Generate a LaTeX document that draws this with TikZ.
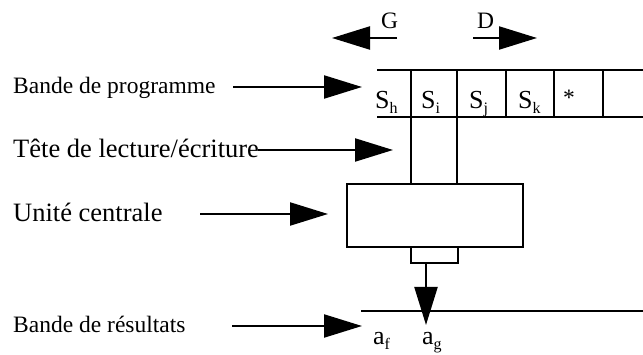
\documentclass[tikz,border=0pt]{standalone}
\usepackage{fontspec}
\setmainfont{Liberation Serif}
\usetikzlibrary{arrows.meta}
\newcommand{\mysub}[1]{\raisebox{-5pt}{\fontsize{16}{16}\selectfont #1}}
\begin{document}
\begin{tikzpicture}[x=1pt,y=-1pt,
  ln/.style={line width=2.2pt},
  arr/.style={line width=2.2pt,-{Triangle[length=38pt,width=23pt]}},
  lbl/.style={anchor=base west,inner sep=0pt,font=\fontsize{23.5}{28}\selectfont},
  lblb/.style={anchor=base west,inner sep=0pt,font=\fontsize{26.5}{30}\selectfont},
  cell/.style={anchor=base west,inner sep=0pt,font=\fontsize{26}{30}\selectfont}]
\useasboundingbox (0,0) rectangle (643,355);
% labels
\node[lbl]  (bp) at (13,94)  {Bande de programme};
\node[lblb] (tl) at (13,158) {Tête de lecture/écriture};
\node[lblb] (uc) at (13,222) {Unité centrale};
\node[lbl]  (br) at (13,333) {Bande de résultats};
\coordinate (bpS) at (233,87);  \coordinate (bpT) at (362,87);
\coordinate (tlS) at (258,150); \coordinate (tlT) at (393,150);
\coordinate (ucS) at (200,214); \coordinate (ucT) at (328,214);
\coordinate (brS) at (232,326); \coordinate (brT) at (362,326);
\draw[arr] (bpS) -- (bpT);
\draw[arr] (tlS) -- (tlT);
\draw[arr] (ucS) -- (ucT);
\draw[arr] (brS) -- (brT);
% G / D
\node[lbl] (G) at (381,29) {G};
\node[lbl] (D) at (477,29) {D};
\coordinate (gS) at (397,38); \coordinate (gT) at (332,38);
\coordinate (dS) at (473,38); \coordinate (dT) at (537,38);
\draw[arr] (gS) -- (gT);
\draw[arr] (dS) -- (dT);
% tape
\draw[ln] (377,70) -- (643,70);
\draw[ln] (377,117) -- (643,117);
\foreach \x in {506,554,603} \draw[ln] (\x,70) -- (\x,117);
\draw[ln] (411,70) -- (411,183);
\draw[ln] (457,70) -- (457,183);
\node[cell] (sh) at (375,109) {S\mysub{h}};
\node[cell] (si) at (421,109) {S\mysub{i}};
\node[cell] (sj) at (469,109) {S\mysub{j}};
\node[cell] (sk) at (518,109) {S\mysub{k}};
\node[lbl]  (st) at (563,106) {*};
% central unit
\node[draw,line width=2.2pt,minimum width=176pt,minimum height=63pt,inner sep=0pt,anchor=north west] (cu) at (346,183) {};
\node[draw,line width=2.2pt,minimum width=47pt,minimum height=16pt,inner sep=0pt,anchor=north west] (sb) at (410,246) {};
\coordinate (dwT) at (426,325);
\draw[arr] (sb.south -| dwT) -- (dwT);
% result tape
\draw[ln] (361,311) -- (643,311);
\node[cell] (af) at (373,345) {a\mysub{f}};
\node[cell] (ag) at (422,345) {a\mysub{g}};
\end{tikzpicture}
\end{document}
